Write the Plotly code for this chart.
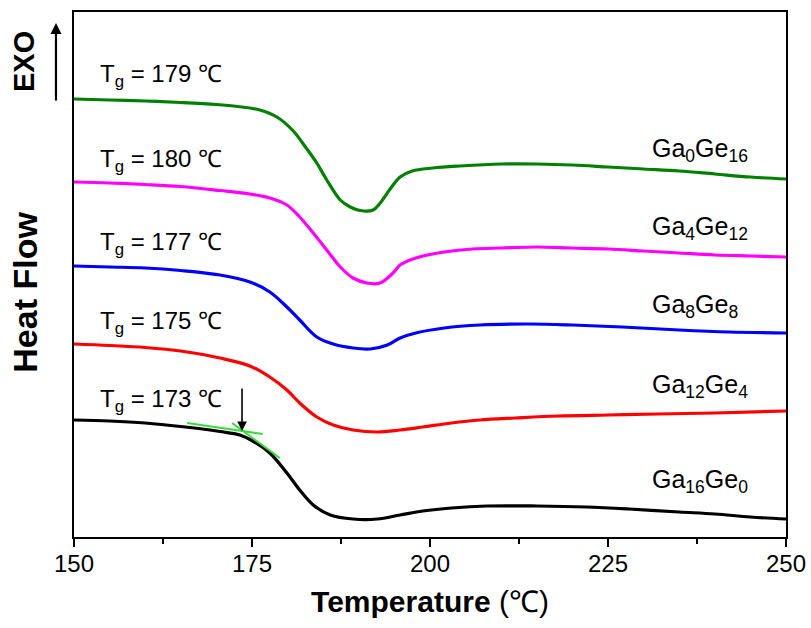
import plotly.graph_objects as go

# ---------------- data (temperature in degC, heat flow in arbitrary units, curves offset) -------------
T_green = [150, 155, 160, 165, 170, 173, 176.1, 178.5, 180.8, 182.2, 184.1, 185.5, 187.4, 188.8, 190.2, 192, 193,
           194.5, 195.8, 197.5, 200.4, 204.2, 210, 215, 220, 225, 230, 235, 240, 245, 250]
H_green = [4.38, 4.37, 4.36, 4.345, 4.325, 4.305, 4.27, 4.20, 4.06, 3.93, 3.74, 3.57, 3.37, 3.30, 3.265, 3.27, 3.34,
           3.49, 3.60, 3.66, 3.69, 3.71, 3.73, 3.73, 3.72, 3.70, 3.68, 3.66, 3.63, 3.60, 3.58]

T_mag = [150, 155, 160, 165, 170.5, 174.7, 177.5, 179.9, 181.7, 183.6, 185.5, 187.4, 189.2, 191.1, 193, 194.8,
         195.8, 197.2, 199, 202, 206, 210, 215, 220, 225, 230, 235, 240, 245, 250]
H_mag = [3.55, 3.54, 3.525, 3.505, 3.465, 3.43, 3.39, 3.32, 3.20, 3.04, 2.87, 2.70, 2.59, 2.54, 2.54, 2.64,
         2.72, 2.77, 2.81, 2.85, 2.88, 2.89, 2.90, 2.89, 2.88, 2.86, 2.84, 2.82, 2.81, 2.80]

T_blue = [150, 155, 160, 165, 170.5, 174.7, 177.5, 179.9, 181.7, 184.1, 186.4, 189.2, 191.6, 194, 195.8, 198,
          202, 207, 214, 220, 227, 235, 242, 250]
H_blue = [2.71, 2.70, 2.69, 2.665, 2.62, 2.55, 2.45, 2.30, 2.17, 2.00, 1.93, 1.89, 1.88, 1.92, 1.99, 2.04,
          2.09, 2.12, 2.13, 2.12, 2.10, 2.07, 2.05, 2.04]

T_red = [150, 155, 160, 165, 170.5, 174.7, 177.5, 179.9, 181.7, 184.1, 186.4, 189.2, 192.6, 195.8, 199, 203,
         207, 212, 218, 225, 232, 240, 250]
H_red = [1.93, 1.915, 1.895, 1.86, 1.79, 1.71, 1.60, 1.47, 1.34, 1.20, 1.12, 1.07, 1.05, 1.07, 1.10, 1.14,
         1.17, 1.19, 1.21, 1.22, 1.23, 1.24, 1.26]

T_black = [150, 155, 160, 165, 170.5, 173.3, 175.1, 177.5, 179.9, 181.7, 183.6, 186, 189.2, 192.6, 195.8, 199,
           203, 208, 215, 222, 228, 235, 240, 245, 250]
H_black = [1.17, 1.16, 1.14, 1.105, 1.055, 1.02, 0.96, 0.84, 0.64, 0.47, 0.32, 0.22, 0.18, 0.18, 0.22, 0.26,
           0.29, 0.31, 0.31, 0.30, 0.28, 0.25, 0.23, 0.20, 0.18]

# tangent construction for Tg of Ga16Ge0
tan1_T = [165.9, 176.5]
tan1_H = [1.14, 1.03]
tan2_T = [172.2, 178.9]
tan2_H = [1.14, 0.79]
tg_arrow_T = 173.6
tg_arrow_H = [1.50, 1.06]   # tail, head

names = ["Ga<sub>0</sub>Ge<sub>16</sub>", "Ga<sub>4</sub>Ge<sub>12</sub>", "Ga<sub>8</sub>Ge<sub>8</sub>",
         "Ga<sub>12</sub>Ge<sub>4</sub>", "Ga<sub>16</sub>Ge<sub>0</sub>"]
tg_values = [179, 180, 177, 175, 173]
x_ticks = [150, 175, 200, 225, 250]

# ---------------- figure ----------------
FONT = "Arial, 'Liberation Sans', sans-serif"
colors = ["#008000", "#ff00ff", "#0000ff", "#ff0000", "#000000"]
series = [(T_green, H_green), (T_mag, H_mag), (T_blue, H_blue), (T_red, H_red), (T_black, H_black)]

fig = go.Figure()
for (tx, hy), c, n in zip(series, colors, names):
    fig.add_trace(go.Scatter(x=tx, y=hy, mode="lines", name=n,
                             line=dict(color=c, width=3.2, shape="spline", smoothing=1.0)))

for tx, hy in [(tan1_T, tan1_H), (tan2_T, tan2_H)]:
    fig.add_trace(go.Scatter(x=tx, y=hy, mode="lines", line=dict(color="#33dd33", width=2)))

annotations = []
# Tg labels (left)
tg_label_y = [4.62, 3.77, 2.94, 2.15, 1.37]
for v, yy in zip(tg_values, tg_label_y):
    annotations.append(dict(x=153.3, y=yy, xref="x", yref="y", xanchor="left", yanchor="middle",
                            text=f"T<sub>g</sub> = {v} ℃", showarrow=False,
                            font=dict(family=FONT, size=24, color="black")))
# composition labels (right)
name_y = [3.87, 3.09, 2.31, 1.51, 0.56]
for n, yy in zip(names, name_y):
    annotations.append(dict(x=230.9, y=yy, xref="x", yref="y", xanchor="left", yanchor="middle",
                            text=n, showarrow=False,
                            font=dict(family=FONT, size=25, color="black")))
# Tg arrow
annotations.append(dict(x=tg_arrow_T, y=tg_arrow_H[1], ax=tg_arrow_T, ay=tg_arrow_H[0],
                        xref="x", yref="y", axref="x", ayref="y", text="", showarrow=True,
                        arrowhead=2, arrowsize=1.2, arrowwidth=1.6, arrowcolor="black"))
# y-axis title and EXO
annotations.append(dict(x=-0.069, y=0.467, xref="paper", yref="paper", text="<b>Heat Flow</b>",
                        textangle=-90, showarrow=False, xanchor="center", yanchor="middle",
                        font=dict(family=FONT, size=34, color="black")))
annotations.append(dict(x=-0.070, y=0.905, xref="paper", yref="paper", text="<b>EXO</b>",
                        textangle=-90, showarrow=False, xanchor="center", yanchor="middle",
                        font=dict(family=FONT, size=29, color="black")))
annotations.append(dict(x=-0.0253, y=0.979, xref="paper", yref="paper", text="", showarrow=True,
                        ax=0, ay=79, arrowhead=2, arrowsize=1.0, arrowwidth=2.2, arrowcolor="black"))

fig.update_layout(
    width=811, height=628,
    margin=dict(l=74, r=25, t=12, b=91, autoexpand=False),
    paper_bgcolor="white", plot_bgcolor="white",
    showlegend=False,
    font=dict(family=FONT, color="black"),
    annotations=annotations,
    xaxis=dict(range=[150, 250], tickvals=x_ticks, ticktext=[str(t) for t in x_ticks],
               ticks="outside", ticklen=8, tickwidth=2, tickcolor="black", automargin=False,
               ticklabelstandoff=-4,
               minor=dict(ticks="outside", dtick=12.5, tick0=150, ticklen=5, tickwidth=2, tickcolor="black"),
               showline=True, linewidth=2, linecolor="black", mirror=True,
               showgrid=False, zeroline=False,
               tickfont=dict(family=FONT, size=24, color="black"),
               title=dict(text="<b>Temperature</b> (℃)", font=dict(family=FONT, size=30, color="black"),
                          standoff=15)),
    yaxis=dict(range=[0, 5.25], showticklabels=False, ticks="", automargin=False,
               showline=True, linewidth=2, linecolor="black", mirror=True,
               showgrid=False, zeroline=False),
)

fig.write_html("out.html")
